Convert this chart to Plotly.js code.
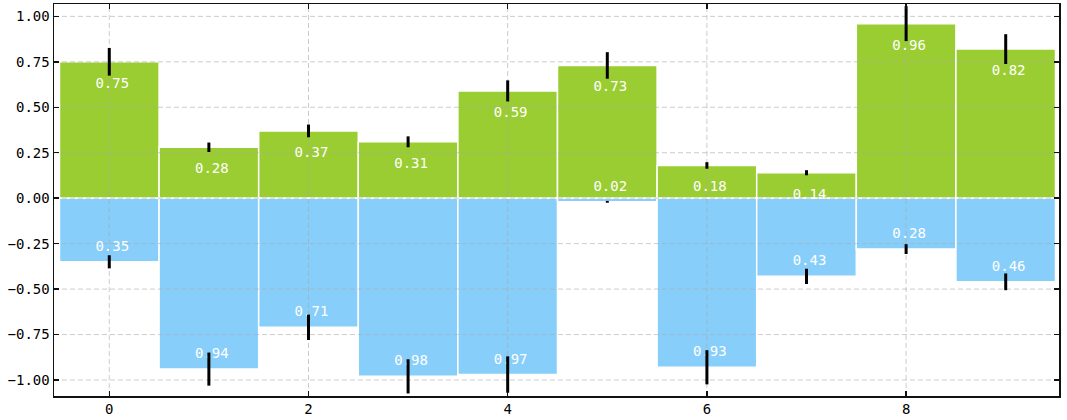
<!DOCTYPE html>
<html>
<head>
<meta charset="utf-8">
<script src="https://cdn.plot.ly/plotly-3.0.1.min.js"></script>
<style>html,body{margin:0;padding:0;background:#fff;}#chart{width:1067px;height:420px;}</style>
</head>
<body>
<div id="chart"></div>
<script>
// ---- data ----
const categories = [0, 1, 2, 3, 4, 5, 6, 7, 8, 9];
const upperValues = [0.75, 0.28, 0.37, 0.31, 0.59, 0.73, 0.18, 0.14, 0.96, 0.82];
const lowerValues = [0.35, 0.94, 0.71, 0.98, 0.97, 0.02, 0.93, 0.43, 0.28, 0.46];
const upperErrors = [0.076, 0.026, 0.035, 0.030, 0.058, 0.073, 0.018, 0.014, 0.096, 0.082];
const lowerErrors = [0.036, 0.091, 0.070, 0.094, 0.100, 0.005, 0.094, 0.042, 0.027, 0.046];
const xTickValues = [0, 2, 4, 6, 8];
const yTickValues = [-1.00, -0.75, -0.50, -0.25, 0.00, 0.25, 0.50, 0.75, 1.00];

// ---- styling ----
const FONT = 'DejaVu Sans Mono, monospace';
const GREEN = '#9ACD32';
const BLUE = '#87CEFA';
const GRID = 'rgba(170,170,170,0.6)';
const X_RANGE = [-0.555, 9.535];
const Y_RANGE = [-1.088, 1.068];

const negValues = lowerValues.map(v => -v);
const fmt = v => v.toFixed(2);

// grid lines as line traces so they sit above the bars but below the error bars
const hGridX = [], hGridY = [];
yTickValues.forEach(t => { hGridX.push(X_RANGE[0], X_RANGE[1], null); hGridY.push(t, t, null); });
const vGridX = [], vGridY = [];
xTickValues.forEach(t => { vGridX.push(t, t, null); vGridY.push(Y_RANGE[0], Y_RANGE[1], null); });

const gridLine = {color: GRID, width: 1, dash: '5px,3px'};

const traces = [
  {
    type: 'bar', x: categories, y: upperValues, width: 1,
    marker: {color: GREEN, line: {color: '#ffffff', width: 1.5}},
    hoverinfo: 'skip', showlegend: false
  },
  {
    type: 'bar', x: categories, y: negValues, width: 1,
    marker: {color: BLUE, line: {color: '#ffffff', width: 1.5}},
    hoverinfo: 'skip', showlegend: false
  },
  {type: 'scatter', mode: 'lines', x: hGridX, y: hGridY, line: gridLine, hoverinfo: 'skip', showlegend: false, connectgaps: false},
  {type: 'scatter', mode: 'lines', x: vGridX, y: vGridY, line: gridLine, hoverinfo: 'skip', showlegend: false, connectgaps: false},
  {
    type: 'scatter', mode: 'text',
    x: categories.map(c => c + 0.03),
    y: upperValues.map(v => v - 0.123),
    text: upperValues.map(fmt),
    textposition: 'middle center',
    textfont: {family: FONT, size: 14, color: '#ffffff'},
    hoverinfo: 'skip', showlegend: false, cliponaxis: false
  },
  {
    type: 'scatter', mode: 'text',
    x: categories.map(c => c + 0.03),
    y: negValues.map(v => v + 0.08),
    text: lowerValues.map(fmt),
    textposition: 'middle center',
    textfont: {family: FONT, size: 14, color: '#ffffff'},
    hoverinfo: 'skip', showlegend: false, cliponaxis: false
  },
  {
    type: 'scatter', mode: 'markers', x: categories, y: upperValues,
    marker: {size: 1, opacity: 0},
    error_y: {type: 'data', array: upperErrors, visible: true, color: '#000000', thickness: 3, width: 0},
    hoverinfo: 'skip', showlegend: false
  },
  {
    type: 'scatter', mode: 'markers', x: categories, y: negValues,
    marker: {size: 1, opacity: 0},
    error_y: {type: 'data', array: lowerErrors, visible: true, color: '#000000', thickness: 3, width: 0},
    hoverinfo: 'skip', showlegend: false
  }
];

const axisCommon = {
  showgrid: false, zeroline: false, showline: true, linecolor: '#111111', linewidth: 1.5,
  mirror: 'ticks', ticks: 'inside', ticklen: 5, tickwidth: 1.5, tickcolor: '#111111',
  tickfont: {family: FONT, size: 14, color: '#000000'}, layer: 'above traces'
};

const layout = {
  width: 1067, height: 420,
  margin: {l: 54, r: 8, t: 4, b: 24},
  paper_bgcolor: '#ffffff', plot_bgcolor: '#ffffff',
  barmode: 'overlay', bargap: 0,
  showlegend: false,
  xaxis: Object.assign({}, axisCommon, {
    range: X_RANGE, tickmode: 'array', tickvals: xTickValues,
    ticktext: xTickValues.map(String)
  }),
  yaxis: Object.assign({}, axisCommon, {
    range: Y_RANGE, tickmode: 'array', tickvals: yTickValues,
    ticktext: yTickValues.map(v => (v < 0 ? '\u2212' : '') + Math.abs(v).toFixed(2))
  })
};

Plotly.newPlot('chart', traces, layout, {staticPlot: true, displayModeBar: false});
</script>
</body>
</html>
